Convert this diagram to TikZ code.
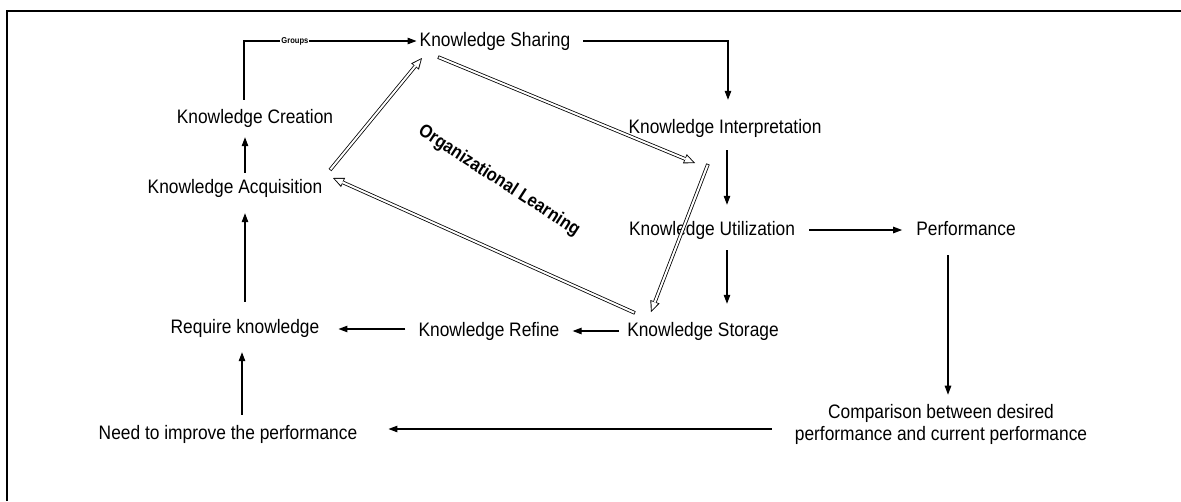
\documentclass[tikz,border=0pt]{standalone}
\usepackage{fontspec}
\setmainfont{Liberation Sans}[FakeStretch=0.89]
\usetikzlibrary{arrows.meta}
\tikzset{
  lbl/.style={inner sep=0pt, font=\fontsize{19.5}{23}\selectfont, text height=14pt, text depth=4pt},
  lbltwo/.style={inner sep=0pt, align=center, font=\fontsize{19.5}{22}\selectfont},
  grp/.style={inner sep=1pt, fill=white, font=\bfseries\fontsize{8.5}{9}\selectfont},
  olbl/.style={inner sep=0pt, font=\bfseries\fontsize{18.5}{20}\selectfont},
  arr/.style={line width=1.1pt, -{Triangle[length=9pt,width=6.5pt]}},
  frame/.style={line width=1.4pt},
  hollow outer/.style={line width=3.6pt, -{Triangle[length=11pt,width=10pt,line width=0pt]}},
  hollow inner/.style={white, line width=2.0pt, shorten <=0.8pt, shorten >=1.9pt,
                       -{Triangle[length=8.3pt,width=7pt,line width=0pt]}}
}
\newcommand\hollowarrow[2]{%
  \draw[hollow outer] (#1) -- (#2);
  \draw[hollow inner] (#1) -- (#2);}
\begin{document}
\begin{tikzpicture}[x=1pt,y=-1pt]
\useasboundingbox (0,0) rectangle (1181,501);
\draw[frame] (7,501) -- (7,11) -- (1181,11);

% stages of the cycle
\node[lbl] (ks)   at (495,41)  {Knowledge Sharing};
\node[lbl] (kc)   at (255,118) {Knowledge Creation};
\node[lbl] (ka)   at (235,188) {Knowledge Acquisition};
\node[lbl] (ki)   at (725,128) {Knowledge Interpretation};
\node[lbl] (ku)   at (712,230) {Knowledge Utilization};
\node[lbl] (perf) at (966,230) {Performance};
\node[lbl] (kst)  at (703,331) {Knowledge Storage};
\node[lbl] (kr)   at (489,331) {Knowledge Refine};
\node[lbl] (rk)   at (245,328) {Require knowledge};
\node[lbl] (need) at (228,434) {Need to improve the performance};
\node[lbltwo] (comp) at (941,424) {Comparison between desired\\performance and current performance};
\node[olbl, rotate=-33] (ol) at (499,181) {Organizational Learning};

% single arrows
\draw[arr, shorten >=3pt] ([xshift=-11pt,yshift=9pt]kc.north) |- (ks.west)
  node[pos=0.645, grp] (grp) {Groups};
\draw[arr, shorten <=13pt, shorten >=19pt] (ks.east) -| ([xshift=3pt]ki.north);
\draw[arr, shorten <=13pt, shorten >=16pt] ([xshift=2pt]ki.south) -- ([xshift=2pt]ki.south |- ku.north);
\draw[arr, shorten <=11pt, shorten >=18pt] ([xshift=15pt]ku.south) -- ([xshift=15pt]ku.south |- kst.north);
\draw[arr, shorten <=14pt, shorten >=14pt] (ku.east) -- (perf.west);
\draw[arr, shorten <=16pt, shorten >=9pt] ([xshift=-18pt]perf.south) -- ([xshift=-18pt]perf.south |- comp.north);
\draw[arr, shorten <=8pt, shorten >=13pt] (kst.west) -- (kr.east);
\draw[arr, shorten <=13pt, shorten >=19pt] ([yshift=2pt]kr.west) -- ([yshift=2pt]kr.west -| rk.east);
\draw[arr, shorten <=23pt, shorten >=31pt] ([yshift=-5pt]comp.west) -- ([yshift=-5pt]comp.west -| need.east);
\draw[arr, shorten <=10pt, shorten >=15pt] ([xshift=14pt]need.north) -- ([xshift=14pt]need.north |- rk.south);
\draw[arr, shorten <=17pt, shorten >=16pt] (rk.north) -- (rk.north |- ka.south);
\draw[arr, shorten <=6pt, shorten >=10pt] ([xshift=10pt]ka.north) -- ([xshift=10pt]ka.north |- kc.south);

% organizational learning loop
\coordinate (a1) at (330,170); \coordinate (a2) at (422,58);
\coordinate (b1) at (438,57);  \coordinate (b2) at (695,163);
\coordinate (c1) at (708,164); \coordinate (c2) at (651,312);
\coordinate (d1) at (635,313); \coordinate (d2) at (333,178);
\hollowarrow{a1}{a2}
\hollowarrow{b1}{b2}
\hollowarrow{c1}{c2}
\hollowarrow{d1}{d2}
\end{tikzpicture}
\end{document}
